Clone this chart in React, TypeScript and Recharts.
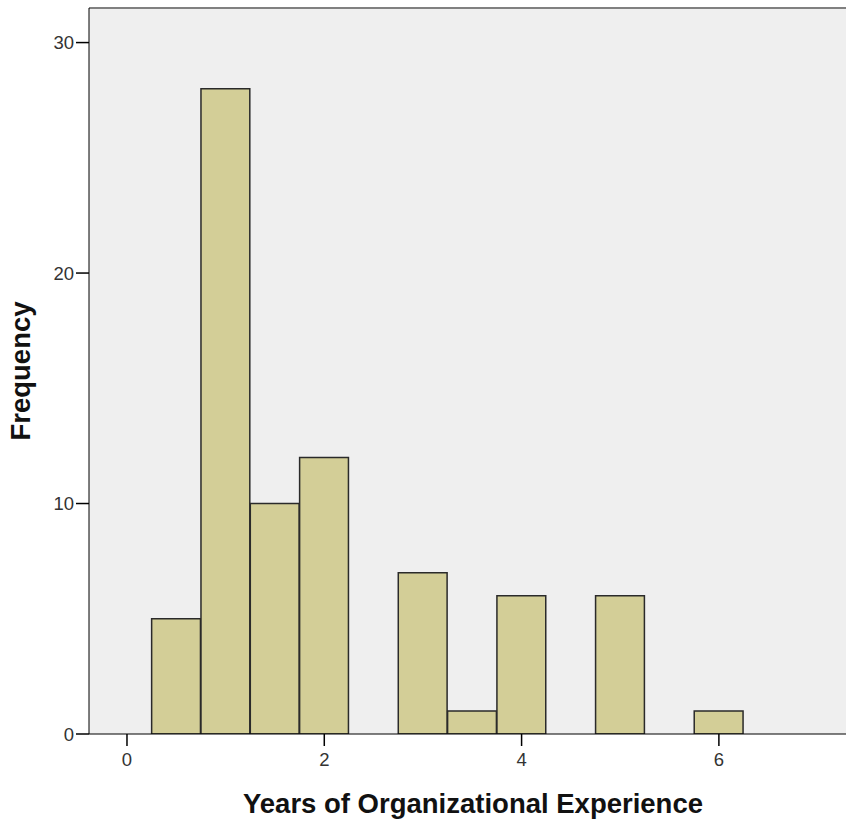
import { ComposedChart, Bar, XAxis, YAxis, CartesianGrid, ReferenceLine } from "recharts"

// histogram bins (width 0.5 years), empty bins left out
const binMids = [0.5, 1, 1.5, 2, 3, 3.5, 4, 5, 6]
const counts = [5, 28, 10, 12, 7, 1, 6, 6, 1]
const xTicks = [0, 2, 4, 6]
const yTicks = [0, 10, 20, 30]

const BIN_WIDTH = 0.5
const X_MIN = -0.385
const X_MAX = 7.4
const Y_MAX = 31.5

// the plot runs a bit past the right edge of the picture, so draw wider and clip
const W = 857
const VIEW_W = 846
const H = 821
const MARGIN = { top: 8, right: 0, bottom: 0, left: 0 }
const Y_AXIS_W = 89
const X_AXIS_H = 87

const TICK_FONT = "Liberation Sans, Arial, sans-serif"
const titleFont = { fill: "#111", fontSize: 27.5, fontWeight: "bold", fontFamily: TICK_FONT }

const data = binMids.map((mid, i) => ({ mid, count: counts[i] }))

const XTick = ({ x, y, payload }: any) => (
    <text x={x} y={y} dy="0.71em" textAnchor="middle" fill="#333" fontSize={18.5} fontFamily={TICK_FONT}>
        {payload.value}
    </text>
)

const YTick = ({ x, y, payload }: any) => (
    <text x={x} y={y} dy="0.355em" textAnchor="end" fill="#333" fontSize={18.5} fontFamily={TICK_FONT}>
        {payload.value}
    </text>
)

export default function App() {
    const plotW = W - Y_AXIS_W - MARGIN.left - MARGIN.right
    // just under the band width, otherwise recharts shrinks bars to 90%
    const barSize = (plotW / (X_MAX - X_MIN)) * BIN_WIDTH * 0.99

    return (
        <div style={{ position: "absolute", left: 0, top: 0, width: VIEW_W, height: H, overflow: "hidden", background: "#fff" }}>
            <ComposedChart width={W} height={H} data={data} margin={MARGIN} barCategoryGap="0%" barGap={0}>
                <CartesianGrid horizontal={false} vertical={false} fill="#efefef" stroke="none" />
                <XAxis
                    dataKey="mid"
                    type="number"
                    domain={[X_MIN, X_MAX]}
                    ticks={xTicks}
                    allowDataOverflow
                    height={X_AXIS_H}
                    stroke="#000"
                    tickSize={12}
                    tickMargin={7}
                    tick={<XTick />}
                    tickLine={{ stroke: "#000", strokeWidth: 1.5 }}
                    label={{
                        value: "Years of Organizational Experience",
                        position: "insideBottom",
                        offset: 8,
                        ...titleFont,
                    }}
                />
                <YAxis
                    type="number"
                    domain={[0, Y_MAX]}
                    ticks={yTicks}
                    allowDataOverflow
                    width={Y_AXIS_W}
                    stroke="#000"
                    tickSize={13}
                    tickMargin={2}
                    tick={<YTick />}
                    tickLine={{ stroke: "#000", strokeWidth: 1.5 }}
                    label={{
                        value: "Frequency",
                        angle: -90,
                        position: "insideLeft",
                        offset: 20,
                        ...titleFont,
                        style: { textAnchor: "middle" },
                    }}
                />
                <ReferenceLine y={Y_MAX} stroke="#808080" strokeWidth={2} />
                <Bar
                    dataKey="count"
                    barSize={barSize}
                    fill="#d3ce97"
                    stroke="#2a2a2a"
                    strokeWidth={1.5}
                    isAnimationActive={false}
                />
            </ComposedChart>
        </div>
    )
}
